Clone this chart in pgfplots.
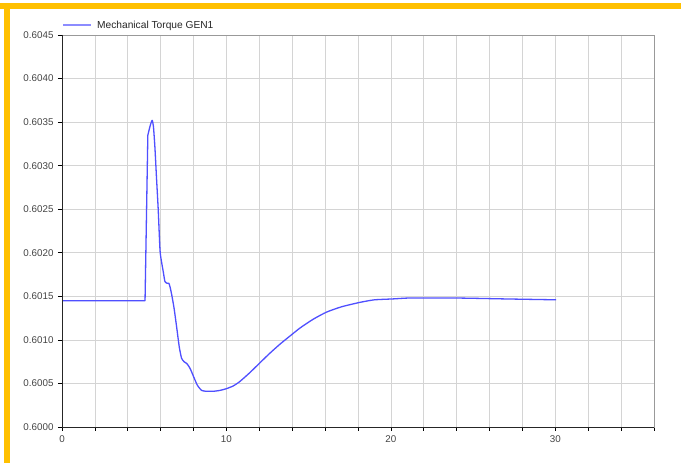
\documentclass[border=0pt]{standalone}
\usepackage{pgfplots}
\pgfplotsset{compat=1.18}
\usepackage{fontspec}
\setmainfont{Liberation Sans}
\definecolor{orbar}{HTML}{FFC000}
\definecolor{curve}{HTML}{4F4FFF}
\definecolor{legc}{HTML}{8C8CFF}
\definecolor{gridc}{HTML}{D4D4D4}
\definecolor{ticklab}{HTML}{444444}
\begin{document}
\begin{tikzpicture}[x=1pt,y=1pt]
\useasboundingbox (0,0) rectangle (681,463);
\fill[white] (0,0) rectangle (681,463);
\fill[orbar] (0,453.7) rectangle (681,459.7);
\fill[orbar] (4,0) rectangle (10,459.7);
\begin{axis}[
  at={(62pt,36pt)}, anchor=south west,
  scale only axis, width=592pt, height=392pt,
  xmin=0, xmax=36, ymin=0.6, ymax=0.6045,
  xtick={0,2,...,36},
  xticklabels={0,,,,,10,,,,,20,,,,,30,,,},
  ytick={0.6,0.6005,...,0.6046},
  yticklabel style={/pgf/number format/.cd, fixed, precision=4, zerofill, /tikz/.cd},
  /pgf/number format/assume math mode=true,
  scaled y ticks=false,
  tick label style={font=\fontsize{9.8}{11}\selectfont, text=ticklab},
  tick align=outside, tick pos=left,
  major tick length=4pt,
  every tick/.style={black, line width=0.6pt},
  grid=major, grid style={gridc, line width=0.7pt},
  axis line style={gray!80, line width=0.7pt},
  xticklabel style={yshift=-1pt},
  yticklabel style={xshift=-1pt},
  legend style={at={(0,1)}, anchor=south west, draw=none, fill=none,
    inner sep=0pt, xshift=0pt, yshift=3pt,
    font=\fontsize{10.2}{12}\selectfont, text=black!85,
    legend cell align=left, nodes={inner xsep=5pt}},
  legend image code/.code={\draw[draw=legc, line width=2pt] (0pt,0pt) -- (28pt,0pt);},
  clip=false,
]
\addplot[curve, line width=1.3pt, line join=round, forget plot] coordinates {
(0,0.60145) (5.05,0.60145) (5.22,0.60335)
};
\addplot[curve, line width=1.3pt, line join=round, smooth, tension=0.35] coordinates {
(5.22,0.60335) (5.35,0.60345) (5.48,0.60352)
(5.56,0.60345) (5.65,0.60321) (5.75,0.60285) (5.85,0.60250) (5.96,0.60203)
(6.05,0.60190) (6.16,0.60178) (6.26,0.60167) (6.4,0.60165) (6.5,0.60165)
(6.58,0.60160) (6.67,0.60152) (6.81,0.60137) (6.97,0.60115) (7.13,0.60092)
(7.27,0.60079) (7.42,0.60075) (7.58,0.60073) (7.7,0.60070) (7.82,0.60066)
(8.02,0.60057) (8.23,0.60048) (8.49,0.60042) (8.79,0.60041) (9.2,0.60041)
(9.6,0.60042) (10.0,0.60044) (10.4,0.60047) (10.8,0.60052) (11.4,0.60062)
(12.0,0.60073) (12.6,0.60084) (13.25,0.60095) (13.9,0.60105) (14.5,0.60114)
(15.3,0.60124) (16.1,0.60132) (17.0,0.60138) (18.1,0.60143) (19.0,0.60146)
(20.1,0.60147) (21.0,0.60148) (22.0,0.60148) (24.2,0.60148) (27.0,0.60147)
(30.05,0.60146)
};
\addlegendentry{Mechanical Torque GEN1}
\draw[black!85, line width=0.8pt] (rel axis cs:0,1) -- (rel axis cs:0,0) -- (rel axis cs:1,0);
\end{axis}
\end{tikzpicture}
\end{document}
